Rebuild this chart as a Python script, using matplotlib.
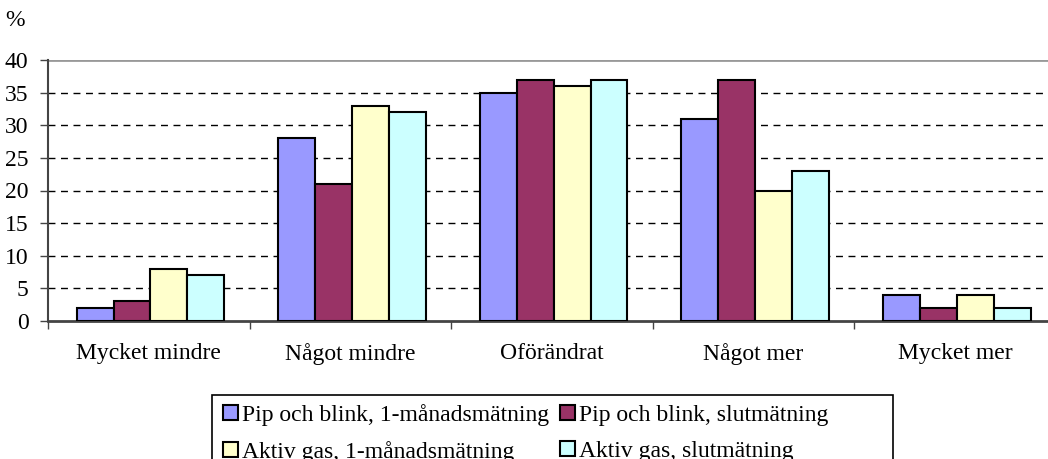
import matplotlib.pyplot as plt
import numpy as np
from matplotlib.patches import Rectangle

categories = ['Mycket mindre', 'Något mindre', 'Oförändrat', 'Något mer', 'Mycket mer']
series = ['Pip och blink, 1-månadsmätning', 'Pip och blink, slutmätning',
          'Aktiv gas, 1-månadsmätning', 'Aktiv gas, slutmätning']
pip_1man = [2, 28, 35, 31, 4]
pip_slut = [3, 21, 37, 37, 2]
gas_1man = [8, 33, 36, 20, 4]
gas_slut = [7, 32, 37, 23, 2]
colors = ['#9999FF', '#993366', '#FFFFCC', '#CCFFFF']

plt.rcParams['font.family'] = ['Liberation Serif', 'DejaVu Serif']
plt.rcParams['font.size'] = 17

fig = plt.figure(figsize=(10.48, 4.59), dpi=100)
W, H = 1048, 459
# plot area runs a bit past the right edge of the image, like the original
ax = fig.add_axes([48 / W, (H - 321) / H, 1008 / W, 261 / H])

x = np.arange(len(categories))
bw = 0.183
values = [pip_1man, pip_slut, gas_1man, gas_slut]
handles = []
for i, (vals, c, lab) in enumerate(zip(values, colors, series)):
    b = ax.bar(x + (i - 1.5) * bw + 0.008, vals, bw, color=c, edgecolor='black',
               linewidth=1.5, label=lab, zorder=3)
    handles.append(b)

ax.set_xlim(-0.5, 4.5)
ax.set_ylim(0, 40)
ax.set_yticks(range(0, 45, 5))
for y in range(5, 40, 5):
    ax.axhline(y, color='black', linestyle=(0, (5, 4)), linewidth=1, zorder=1)
ax.axhline(40, color='#999999', linewidth=2, zorder=1)

ax.set_xticks(x)
ax.set_xticklabels(categories)
ax.set_xticks(np.arange(-0.5, 5, 1), minor=True)
ax.tick_params(axis='x', which='major', length=0, pad=16)
ax.tick_params(axis='x', which='minor', length=6, width=1, color='#444444')
ax.tick_params(axis='y', length=6, width=1, color='#444444', pad=8)

for s in ['top', 'right']:
    ax.spines[s].set_visible(False)
ax.spines['left'].set_color('#444444')
ax.spines['bottom'].set_color('#444444')
ax.spines['left'].set_linewidth(1.5)
ax.spines['bottom'].set_linewidth(2)

fig.text(5 / W, 1 - 20 / H, '%', fontsize=17, va='center')

# Excel fills the legend row by row
order = [0, 2, 1, 3]
leg = fig.legend([handles[i] for i in order], [series[i] for i in order],
                 loc='upper left', bbox_to_anchor=(214 / W, 1 - 395 / H), ncol=2,
                 frameon=False,
                 handlelength=0.62, handleheight=0.62, handletextpad=0.2,
                 columnspacing=0.45, labelspacing=0.62, borderpad=0.38,
                 borderaxespad=0, fontsize=17)

# legend box is wider than its entries, as in the original
fig.patches.append(Rectangle((212 / W, -0.1), (893 - 212) / W, 0.1 + (H - 395) / H,
                             transform=fig.transFigure, fill=False,
                             edgecolor='black', linewidth=1.2))

fig.savefig('out.png', dpi=100)
